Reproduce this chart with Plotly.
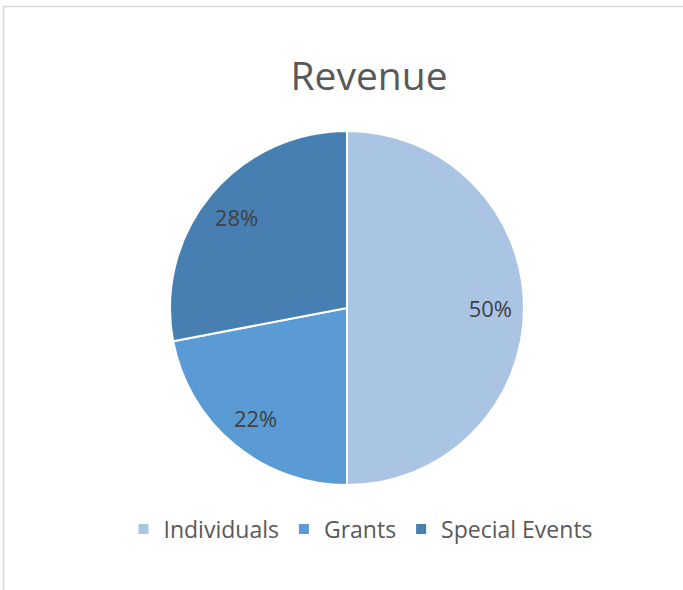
import plotly.graph_objects as go

categories = ["Individuals", "Grants", "Special Events"]
values = [50, 22, 28]
colors = ["#aac4e4", "#5b9bd5", "#487fb2"]

W, H = 683, 590
cx, cy, r = 347, 308, 177
dom = dict(x=[(cx - r) / W, (cx + r) / W], y=[1 - (cy + r) / H, 1 - (cy - r) / H])

fig = go.Figure()
# filled pie
fig.add_trace(go.Pie(
    labels=categories, values=values, sort=False, direction="clockwise", rotation=0,
    marker=dict(colors=colors, line=dict(color="white", width=2)),
    textinfo="none", hoverinfo="label+percent", domain=dom,
))
# transparent ring carrying the percentage labels further out
fig.add_trace(go.Pie(
    labels=categories, values=values, sort=False, direction="clockwise", rotation=0,
    hole=0.62, showlegend=False, hoverinfo="skip",
    marker=dict(colors=["rgba(0,0,0,0)"] * 3, line=dict(width=0)),
    texttemplate="%{percent:.0%}", textposition="inside",
    insidetextorientation="horizontal",
    textfont=dict(family="Open Sans", size=22, color="#404040"),
    domain=dom,
))

fig.update_layout(
    width=W, height=H,
    margin=dict(l=0, r=0, t=0, b=0),
    paper_bgcolor="white",
    title=dict(text="Revenue", x=369 / W, xanchor="center", y=1 - 76 / H, yanchor="middle",
               font=dict(family="Open Sans", size=39, color="#595959")),
    legend=dict(orientation="h", x=361 / W, xanchor="center", y=1 - 529 / H, yanchor="middle",
                font=dict(family="Open Sans", size=23, color="#595959"),
                itemwidth=30, traceorder="normal"),
    shapes=[dict(type="rect", xref="paper", yref="paper",
                 x0=3.5 / W, x1=1.02, y0=-0.02, y1=1 - 6.5 / H,
                 line=dict(color="#d9d9d9", width=1.5))],
)

fig.write_html("out.html", config={"displayModeBar": False},
               post_script="document.body.style.margin='0';")
